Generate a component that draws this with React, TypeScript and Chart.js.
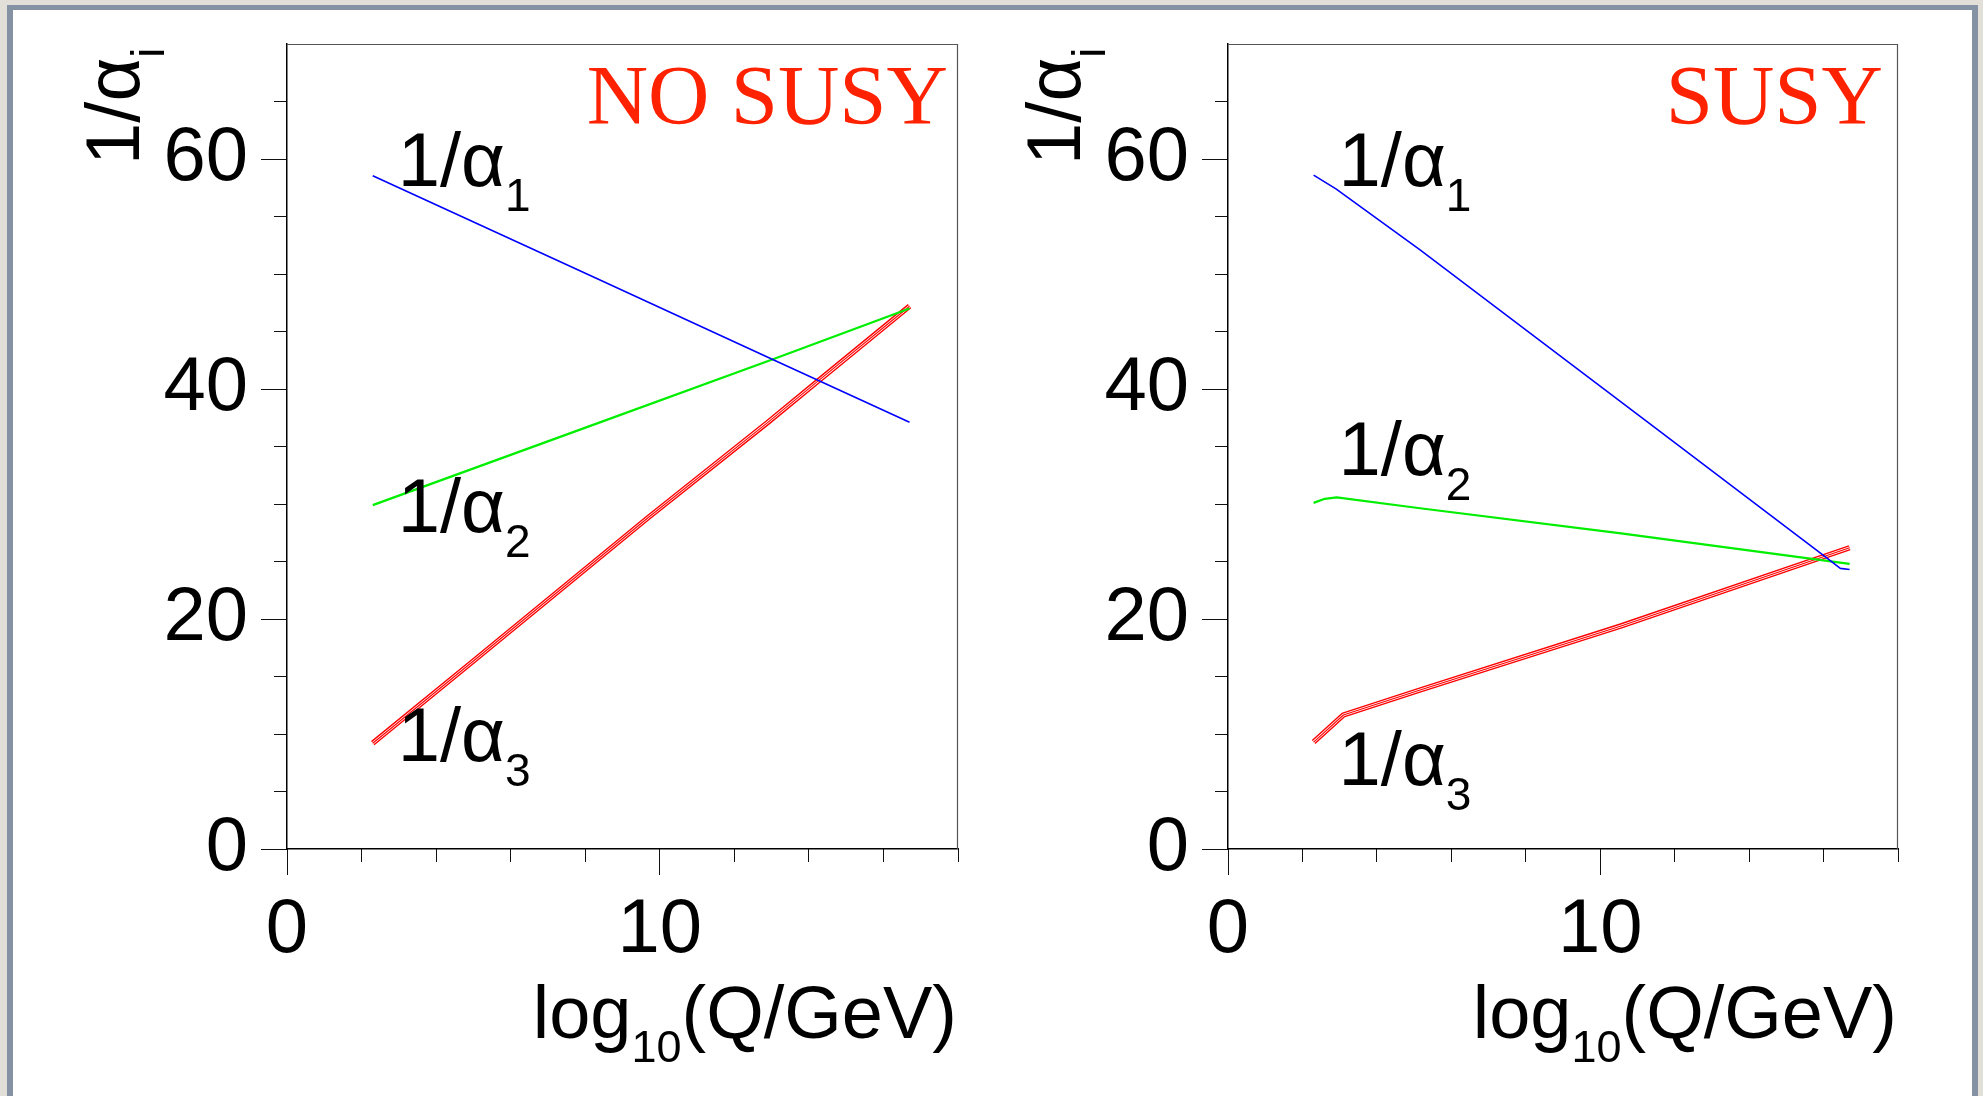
import React, { useEffect, useRef } from 'react';
import { Chart, registerables } from 'chart.js';

Chart.register(...registerables);

// ---------- axis ranges / ticks ----------
const X_RANGE = [0, 18];
const Y_RANGE = [0, 70];
const X_MAJOR_STEP = 10;
const X_MINOR_STEP = 2;
const Y_MAJOR_STEP = 20;
const Y_MINOR_STEP = 5;

// ---------- NO SUSY panel data (x = log10(Q/GeV), y = 1/alpha_i) ----------
const NOSUSY_A1_X = [2.3, 8.31, 13.0, 16.7];
const NOSUSY_A1_Y = [58.55, 49.6, 42.6, 37.1];
const NOSUSY_A2_X = [2.3, 8.1, 13.0, 16.7];
const NOSUSY_A2_Y = [29.9, 36.75, 42.55, 47.0];
const NOSUSY_A3_X = [2.3, 5.0, 9.7, 12.9, 14.25, 16.7];
const NOSUSY_A3_Y = [9.2, 16.35, 28.85, 37.1, 40.7, 47.2];

// ---------- SUSY panel data ----------
const SUSY_A1_X = [2.3, 2.9, 5.16, 11.24, 16.05, 16.45, 16.7];
const SUSY_A1_Y = [58.6, 57.4, 52.1, 37.2, 25.4, 24.4, 24.3];
const SUSY_A2_X = [2.3, 2.6, 2.92, 5.16, 10.56, 16.7];
const SUSY_A2_Y = [30.1, 30.45, 30.57, 29.63, 27.45, 24.8];
const SUSY_A3_X = [2.3, 3.1, 5.16, 10.56, 16.7];
const SUSY_A3_Y = [9.3, 11.65, 13.83, 19.4, 26.2];

// ---------- texts ----------
const PANEL_TITLES = ['NO SUSY', 'SUSY'];
const CURVE_LABEL_MAIN = '1/α';
const CURVE_LABEL_SUBS = ['1', '2', '3'];
const Y_TITLE_MAIN = '1/α';
const Y_TITLE_SUB = 'i';
const X_TITLE_PARTS = ['log', '10', '(Q/GeV)'];

// label anchors (data units) – kept apart from the series
const NOSUSY_LABEL_X = [2.97, 2.97, 2.97];
const NOSUSY_LABEL_Y = [57.65, 27.6, 7.65];
const SUSY_LABEL_X = [2.97, 2.97, 2.97];
const SUSY_LABEL_Y = [57.65, 32.56, 5.57];

// ---------- styles ----------
const SANS = '"Liberation Sans", Arial, Helvetica, sans-serif';
const SERIF = '"Liberation Serif", "Times New Roman", serif';
const MAIN_FONT = `76px ${SANS}`;
const SUB_FONT = `46px ${SANS}`;
const XTITLE_FONT = `74px ${SANS}`;
const XTITLE_SUB_FONT = `45px ${SANS}`;
const YSUB_FONT = `46px ${SANS}`;
const TITLE_FONT = `85px ${SERIF}`;
const TITLE_COLOR = '#ff2200';
const BLUE = '#0000ff';
const GREEN = '#00ee00';
const RED = '#ff0000';

const pts = (xs: number[], ys: number[]) => xs.map((x, i) => ({ x, y: ys[i] }));

function drawSub(ctx: CanvasRenderingContext2D, x: number, y: number, main: string, sub: string, mf: string, sf: string, drop: number) {
  ctx.font = mf;
  ctx.fillText(main, x, y);
  const w = ctx.measureText(main).width;
  ctx.font = sf;
  ctx.fillText(sub, x + w, y + drop);
}

const textPlugin = {
  id: 'panelTexts',
  afterDraw(chart: any, _args: any, opts: any) {
    const { ctx, chartArea: ca, scales } = chart;
    const xs = scales.x;
    const ys = scales.y;
    ctx.save();
    // frame (top & right)
    ctx.strokeStyle = '#555';
    ctx.lineWidth = 1.2;
    ctx.beginPath();
    ctx.moveTo(ca.left, ca.top + 0.5);
    ctx.lineTo(ca.right - 0.5, ca.top + 0.5);
    ctx.lineTo(ca.right - 0.5, ca.bottom);
    ctx.stroke();

    ctx.fillStyle = '#000';
    ctx.textAlign = 'left';
    ctx.textBaseline = 'alphabetic';

    // curve labels
    const lx: number[] = opts.labelX;
    const ly: number[] = opts.labelY;
    CURVE_LABEL_SUBS.forEach((s, i) => {
      drawSub(ctx, xs.getPixelForValue(lx[i]), ys.getPixelForValue(ly[i]), CURVE_LABEL_MAIN, s, MAIN_FONT, SUB_FONT, 25);
    });

    // y axis title (rotated)
    ctx.save();
    ctx.translate(ca.left - 148, ca.top + 121);
    ctx.rotate(-Math.PI / 2);
    drawSub(ctx, 0, 0, Y_TITLE_MAIN, Y_TITLE_SUB, MAIN_FONT, YSUB_FONT, 25);
    ctx.restore();

    // x axis title (right aligned)
    ctx.font = XTITLE_FONT;
    const w1 = ctx.measureText(X_TITLE_PARTS[0]).width;
    const w3 = ctx.measureText(X_TITLE_PARTS[2]).width;
    ctx.font = XTITLE_SUB_FONT;
    const w2 = ctx.measureText(X_TITLE_PARTS[1]).width;
    const xr = ca.right - 1;
    const x0 = xr - (w1 + w2 + w3);
    const by = ca.bottom + 189;
    ctx.font = XTITLE_FONT;
    ctx.fillText(X_TITLE_PARTS[0], x0, by);
    ctx.font = XTITLE_SUB_FONT;
    ctx.fillText(X_TITLE_PARTS[1], x0 + w1, by + 24);
    ctx.font = XTITLE_FONT;
    ctx.fillText(X_TITLE_PARTS[2], x0 + w1 + w2, by);

    // panel title
    ctx.font = TITLE_FONT;
    ctx.fillStyle = TITLE_COLOR;
    ctx.textAlign = 'right';
    ctx.fillText(opts.title, ca.right - opts.titleInset, ca.top + 80);
    ctx.restore();
  },
};

const X_TICK_FONT = { family: SANS, size: 76, lineHeight: 1 };
const Y_TICK_FONT = { family: SANS, size: 76, lineHeight: 0.4 };

function makeScales(yAxisWidth: number) {
  return {
    x: {
      type: 'linear',
      position: 'bottom',
      min: X_RANGE[0],
      max: X_RANGE[1],
      afterFit: (s: any) => { s.height = 247; },
      ticks: { stepSize: X_MAJOR_STEP, includeBounds: false, font: X_TICK_FONT, color: '#000', padding: 18, maxRotation: 0, autoSkip: false },
      grid: { drawOnChartArea: false, tickLength: 26, tickColor: '#111', tickWidth: 1 },
      border: { color: '#000', width: 1.5 },
    },
    xMinor: {
      type: 'linear',
      position: { y: 0 },
      min: X_RANGE[0],
      max: X_RANGE[1],
      afterFit: (s: any) => { s.height = 0; },
      ticks: { stepSize: X_MINOR_STEP, display: false, includeBounds: false },
      grid: { drawOnChartArea: false, tickLength: 13, tickColor: '#111', tickWidth: 1 },
      border: { display: false },
    },
    y: {
      type: 'linear',
      position: 'left',
      min: Y_RANGE[0],
      max: Y_RANGE[1],
      afterFit: (s: any) => { s.width = yAxisWidth; },
      ticks: { stepSize: Y_MAJOR_STEP, includeBounds: false, font: Y_TICK_FONT, color: '#000', padding: 13, autoSkip: false },
      grid: { drawOnChartArea: false, tickLength: 26, tickColor: '#111', tickWidth: 1 },
      border: { color: '#000', width: 1.5 },
    },
    yMinor: {
      type: 'linear',
      position: { x: 0 },
      min: Y_RANGE[0],
      max: Y_RANGE[1],
      afterFit: (s: any) => { s.width = 0; },
      afterBuildTicks: (s: any) => { s.ticks = s.ticks.filter((t: any) => t.value < Y_RANGE[1]); },
      ticks: { stepSize: Y_MINOR_STEP, display: false, includeBounds: false },
      grid: { drawOnChartArea: false, tickLength: 13, tickColor: '#111', tickWidth: 1 },
      border: { display: false },
    },
  };
}

function makeDatasets(a1: any[], a2: any[], a3: any[]) {
  const base = { pointRadius: 0, fill: false, tension: 0, borderJoinStyle: 'round', xAxisID: 'x', yAxisID: 'y' };
  return [
    { ...base, label: '1/α1', data: a1, borderColor: BLUE, borderWidth: 1.6 },
    { ...base, label: '1/α2', data: a2, borderColor: GREEN, borderWidth: 2.2 },
    { ...base, label: '1/α3 core', data: a3, borderColor: RED, borderWidth: 1.1 },
    { ...base, label: '1/α3 gap', data: a3, borderColor: '#ffffff', borderWidth: 2.6 },
    { ...base, label: '1/α3', data: a3, borderColor: RED, borderWidth: 5.4 },
  ];
}

type PanelProps = {
  left: number;
  width: number;
  yAxisWidth: number;
  rightPad: number;
  title: string;
  titleInset: number;
  labelX: number[];
  labelY: number[];
  a1: any[];
  a2: any[];
  a3: any[];
};

function Panel(p: PanelProps) {
  const ref = useRef<HTMLCanvasElement>(null);
  useEffect(() => {
    const chart = new Chart(ref.current as HTMLCanvasElement, {
      type: 'line',
      data: { datasets: makeDatasets(p.a1, p.a2, p.a3) as any },
      options: {
        responsive: false,
        maintainAspectRatio: false,
        animation: false,
        devicePixelRatio: 1,
        layout: { padding: { left: 0, top: 44, right: p.rightPad, bottom: 0 } },
        scales: makeScales(p.yAxisWidth) as any,
        plugins: {
          legend: { display: false },
          tooltip: { enabled: false },
          panelTexts: { title: p.title, titleInset: p.titleInset, labelX: p.labelX, labelY: p.labelY },
        } as any,
        events: [],
      },
      plugins: [textPlugin as any],
    });
    return () => chart.destroy();
  }, []);
  return (
    <canvas
      ref={ref}
      width={p.width}
      height={1096}
      style={{ position: 'absolute', left: p.left, top: 0, width: p.width, height: 1096 }}
    />
  );
}

export default function App() {
  return (
    <div style={{ position: 'fixed', left: 0, top: 0, width: 1983, height: 1096, overflow: 'hidden', background: '#e2dfd8' }}>
      <div
        style={{
          position: 'absolute',
          left: 7,
          top: 5,
          width: 1971,
          height: 1200,
          boxSizing: 'border-box',
          borderStyle: 'solid',
          borderColor: '#8592a3',
          borderWidth: '5px 6px 0 6px',
          background: '#ffffff',
        }}
      />
      <Panel
        left={0}
        width={980}
        yAxisWidth={287}
        rightPad={22}
        title={PANEL_TITLES[0]}
        titleInset={10}
        labelX={NOSUSY_LABEL_X}
        labelY={NOSUSY_LABEL_Y}
        a1={pts(NOSUSY_A1_X, NOSUSY_A1_Y)}
        a2={pts(NOSUSY_A2_X, NOSUSY_A2_Y)}
        a3={pts(NOSUSY_A3_X, NOSUSY_A3_Y)}
      />
      <Panel
        left={980}
        width={1003}
        yAxisWidth={248}
        rightPad={85}
        title={PANEL_TITLES[1]}
        titleInset={15}
        labelX={SUSY_LABEL_X}
        labelY={SUSY_LABEL_Y}
        a1={pts(SUSY_A1_X, SUSY_A1_Y)}
        a2={pts(SUSY_A2_X, SUSY_A2_Y)}
        a3={pts(SUSY_A3_X, SUSY_A3_Y)}
      />
    </div>
  );
}
